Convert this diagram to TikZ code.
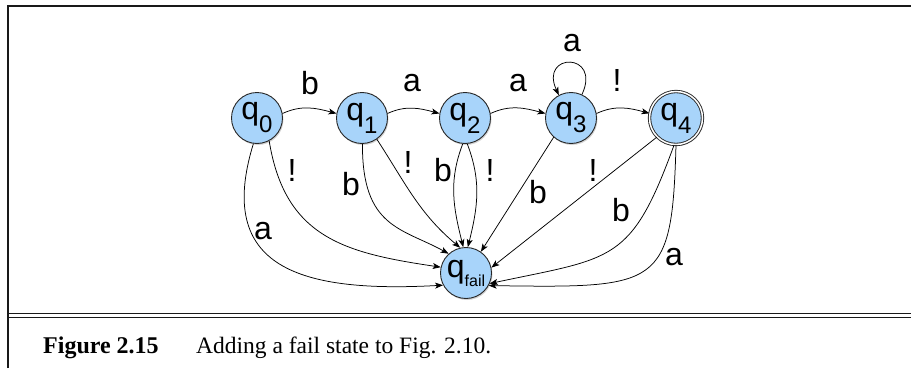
\documentclass[tikz,border=0pt]{standalone}
\usepackage{fontspec}
\setmainfont{Liberation Serif}
\newfontfamily\lsans{Liberation Sans}
\usetikzlibrary{arrows.meta,shadows}
\definecolor{stfill}{HTML}{A8D4FA}
\newcommand{\stq}[1]{{\fontsize{32}{32}\selectfont q}\raisebox{-13pt}{\fontsize{24}{24}\selectfont #1}}
\begin{document}
\begin{tikzpicture}[x=1pt,y=1pt,
  st/.style={circle, draw=black!85, line width=0.9pt, fill=stfill, minimum size=51pt, inner sep=0pt,
    font=\lsans, drop shadow={shadow xshift=1pt,shadow yshift=-1.5pt,opacity=0.35}},
  lab/.style={inner sep=0pt, font=\lsans\fontsize{32}{32}\selectfont},
  tr/.style={line width=0.75pt, -{Stealth[length=8pt,width=6pt,inset=2pt]}},
  frame/.style={line width=1.3pt, black!90}
  ]
\useasboundingbox (0,0) rectangle (911,368);
% frame
\draw[frame] (8,0) -- (8,362) -- (911,362);
\draw[frame] (8,54.5) -- (911,54.5);
\draw[frame] (8,50.5) -- (911,50.5);
% states
\node[st] (q0) at (257,250) {\stq{0}};
\node[st] (q1) at (362,250) {\stq{1}};
\node[st] (q2) at (465,250) {\stq{2}};
\node[st] (q3) at (571,250) {\stq{3}};
\node[st, double, double distance=1.5pt, minimum size=53pt] (q4) at (676,250) {\stq{4}};
\node[st] (qf) at (466,95) {{\fontsize{32}{32}\selectfont q}\raisebox{-9pt}{\fontsize{16}{16}\selectfont fail}};
% top transitions
\draw[tr] (q0.10) to[out=25,in=165] (q1.170);
\draw[tr] (q1.10) to[out=25,in=165] (q2.170);
\draw[tr] (q2.10) to[out=25,in=165] (q3.170);
\draw[tr] (q3.10) to[out=25,in=165] (q4.170);
\draw[tr] (q3.65) to[out=65,in=115,looseness=5.2] (q3.118);
% transitions to fail
\draw[tr] (q0.262) .. controls (215,100) and (300,75) .. (qf.208);
\draw[tr] (q0.298) .. controls (285,130) and (345,115) .. (qf.167);
\draw[tr] (q1.271) .. controls (362,140) and (402,140) .. (qf.132);
\draw[tr] (q1.305) to[out=-57,in=140] (qf.103);
\draw[tr] (q2.265) to[out=249,in=104] (qf.96);
\draw[tr] (q2.275) to[out=291,in=76] (qf.86);
\draw[tr] (q3.228) -- (qf.55);
\draw[tr] (q4.225) -- (qf.12);
\draw[tr] (q4.266) to[out=250,in=12,looseness=1.4] (qf.336);
\draw[tr] (q4.270) .. controls (672,80) and (660,80) .. (qf.331);
% labels
\node[lab] (l01) at (310,285) {b};
\node[lab] (l12) at (412,284.5) {a};
\node[lab] (l23) at (518,284.5) {a};
\node[lab] (l33) at (572,324.5) {a};
\node[lab] (l34) at (617,288) {!};
\node[lab] (l0a) at (263,137) {a};
\node[lab] (l0e) at (292,198) {!};
\node[lab] (l1b) at (351,184) {b};
\node[lab] (l1e) at (408,206) {!};
\node[lab] (l2b) at (443,198) {b};
\node[lab] (l2e) at (490,198) {!};
\node[lab] (l3b) at (538,176) {b};
\node[lab] (l4e) at (593,198) {!};
\node[lab] (l4b) at (621,158) {b};
\node[lab] (l4a) at (674,110.5) {a};
% caption
\node[anchor=base west, inner sep=0pt, font=\fontsize{24}{24}\selectfont\bfseries] (fig) at (43,15) {Figure 2.15};
\node[anchor=base west, inner sep=0pt, font=\fontsize{23.5}{23.5}\selectfont] (cap) at (196,15) {Adding a fail state to Fig. 2.10.};
\end{tikzpicture}
\end{document}
